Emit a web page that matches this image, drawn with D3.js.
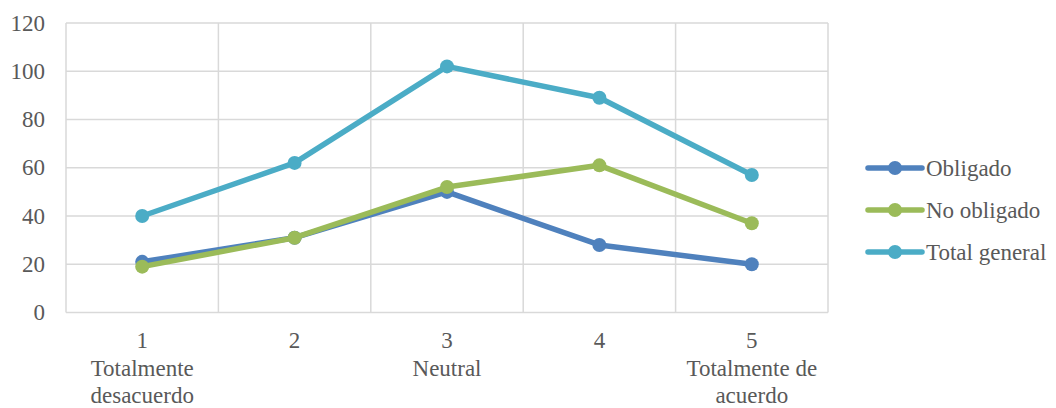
<!DOCTYPE html>
<html>
<head>
<meta charset="utf-8">
<script src="https://cdn.jsdelivr.net/npm/d3@7"></script>
<style>
  html, body { margin: 0; padding: 0; background: #fff; }
  svg { display: block; }
</style>
</head>
<body>
<svg id="chart" width="1056" height="408"></svg>
<script>
// Survey responses per agreement level
const categories = ["1", "2", "3", "4", "5"];
const categoryLabels = [["1", "Totalmente", "desacuerdo"], ["2"], ["3", "Neutral"], ["4"], ["5", "Totalmente de", "acuerdo"]];
const obligado = [21, 31, 50, 28, 20];
const noObligado = [19, 31, 52, 61, 37];
const totalGeneral = [40, 62, 102, 89, 57];
const yTicks = [0, 20, 40, 60, 80, 100, 120];
const seriesNames = ["Obligado", "No obligado", "Total general"];

const series = [
  { name: seriesNames[0], values: obligado, color: "#4F81BD" },
  { name: seriesNames[1], values: noObligado, color: "#9BBB59" },
  { name: seriesNames[2], values: totalGeneral, color: "#4BACC6" }
];

const FONT = "'Liberation Serif', 'Times New Roman', Times, 'DejaVu Serif', serif";
const fontSize = 23;
const textColor = "#595959";

const svg = d3.select("#chart");
const plot = { left: 66, right: 828, top: 23, bottom: 312.5 };

const x = d3.scaleBand().domain(categories).range([plot.left, plot.right]);
const y = d3.scaleLinear().domain([0, 120]).range([plot.bottom, plot.top]);

function styleText(sel) {
  return sel.attr("font-family", FONT)
    .attr("font-size", fontSize)
    .attr("fill", textColor);
}

const grid = svg.append("g");
// horizontal gridlines
grid.selectAll("line.h").data(yTicks).join("line")
  .attr("x1", plot.left).attr("x2", plot.right)
  .attr("y1", d => y(d)).attr("y2", d => y(d))
  .attr("stroke", "#d9d9d9").attr("stroke-width", 1.5);
// vertical gridlines at category boundaries
const bounds = categories.map(c => x(c)).concat([plot.right]);
grid.selectAll("line.v").data(bounds).join("line")
  .attr("x1", d => d).attr("x2", d => d)
  .attr("y1", plot.top).attr("y2", plot.bottom)
  .attr("stroke", "#d9d9d9").attr("stroke-width", 1.5);

// y tick labels
styleText(svg.append("g").selectAll("text").data(yTicks).join("text"))
  .attr("x", 45).attr("y", d => y(d) + 7.5)
  .attr("text-anchor", "end")
  .text(d => d);

// x category labels
const xl = svg.append("g");
categories.forEach((c, i) => {
  const cx = x(c) + x.bandwidth() / 2;
  const t = styleText(xl.append("text"))
    .attr("x", cx)
    .attr("y", 348)
    .attr("text-anchor", "middle");
  categoryLabels[i].forEach((line, j) => {
    t.append("tspan")
      .attr("x", cx)
      .attr("dy", j === 0 ? 0 : 27.5)
      .text(line);
  });
});

// series lines and markers
const line = d3.line()
  .x((d, i) => x(categories[i]) + x.bandwidth() / 2)
  .y(d => y(d));

series.forEach(s => {
  const g = svg.append("g");
  g.append("path")
    .attr("d", line(s.values))
    .attr("fill", "none")
    .attr("stroke", s.color)
    .attr("stroke-width", 5.5)
    .attr("stroke-linejoin", "round")
    .attr("stroke-linecap", "round");
  g.selectAll("circle").data(s.values).join("circle")
    .attr("cx", (d, i) => x(categories[i]) + x.bandwidth() / 2)
    .attr("cy", d => y(d))
    .attr("r", 7)
    .attr("fill", s.color);
});

// legend
const legend = svg.append("g");
series.forEach((s, i) => {
  const cy = 168 + i * 42;
  legend.append("line")
    .attr("x1", 868).attr("x2", 922)
    .attr("y1", cy).attr("y2", cy)
    .attr("stroke", s.color).attr("stroke-width", 5.5)
    .attr("stroke-linecap", "round");
  legend.append("circle")
    .attr("cx", 895).attr("cy", cy).attr("r", 7)
    .attr("fill", s.color);
  styleText(legend.append("text"))
    .attr("x", 926).attr("y", cy + 7.5)
    .text(s.name);
});
</script>
</body>
</html>
